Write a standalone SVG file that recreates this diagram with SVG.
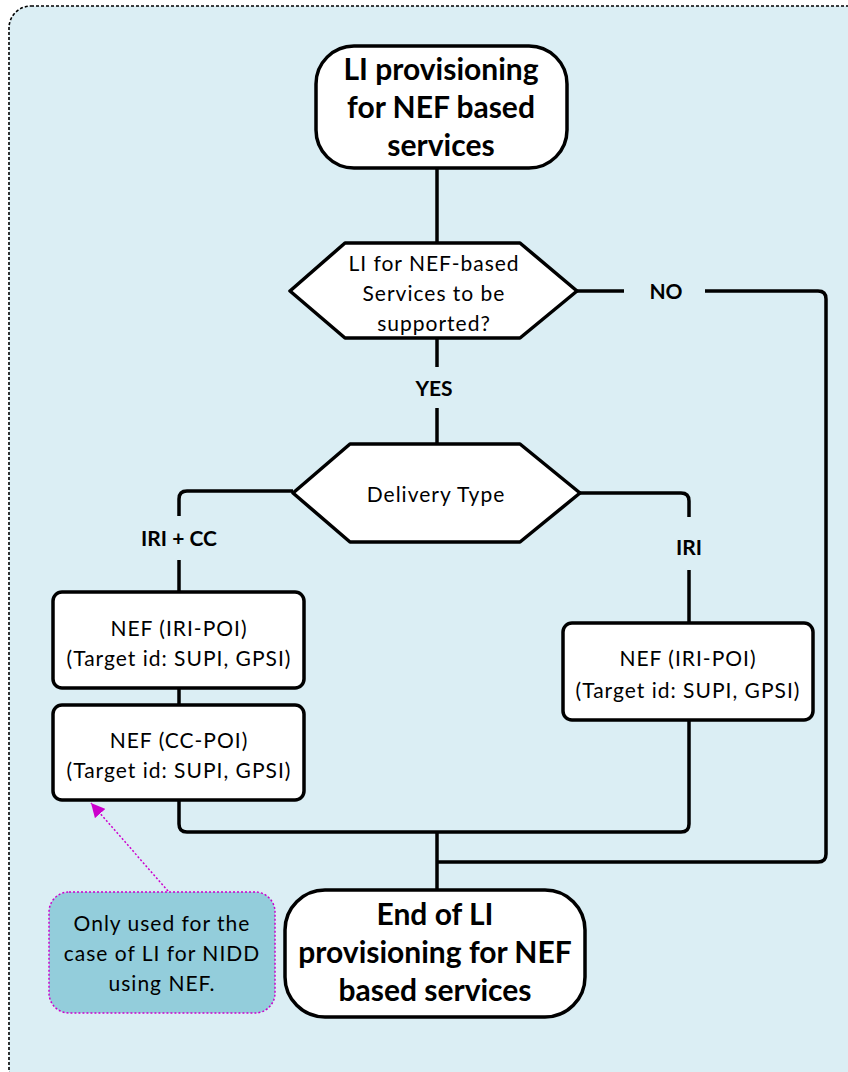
<svg xmlns="http://www.w3.org/2000/svg" width="848" height="1072" viewBox="0 0 848 1072">
<style>
.shape{fill:#ffffff;stroke:#000000;stroke-width:3.5;stroke-linejoin:round}
.conn{fill:none;stroke:#000000;stroke-width:3.5;stroke-linejoin:round}
.t{font-family:Lato,"Liberation Sans",sans-serif;font-size:21px;letter-spacing:1px;fill:#000;text-anchor:middle}
.tb{font-family:Lato,"Liberation Sans",sans-serif;font-size:30px;font-weight:bold;fill:#000;text-anchor:middle}
.lb{font-family:Lato,"Liberation Sans",sans-serif;font-size:21px;font-weight:bold;fill:#000;text-anchor:middle}
</style>
<defs>
<marker id="arr" markerWidth="14" markerHeight="14" refX="10" refY="5" orient="auto" markerUnits="userSpaceOnUse" viewBox="0 0 10 10">
<path d="M0,0 L10,5 L0,10 Z" fill="#cc00cc"/>
</marker>
</defs>
<rect x="9" y="6" width="860" height="1085" rx="22" fill="#dbeef4" stroke="#000" stroke-width="1.6" stroke-dasharray="3,2"/>
<g id="connectors">
<line class="conn" x1="437" y1="168" x2="437" y2="243"/>
<line class="conn" x1="577" y1="291" x2="624" y2="291"/>
<path class="conn" d="M705,291 H818 Q826,291 826,299 V854 Q826,862 818,862 H437"/>
<line class="conn" x1="437" y1="338" x2="437" y2="367"/>
<line class="conn" x1="437" y1="408" x2="437" y2="444"/>
<path class="conn" d="M293,491 H187 Q179,491 179,499 V516"/>
<line class="conn" x1="179" y1="560" x2="179" y2="592"/>
<path class="conn" d="M580,493 H681 Q689,493 689,501 V517"/>
<line class="conn" x1="689" y1="570" x2="689" y2="623"/>
<line class="conn" x1="179" y1="688" x2="179" y2="705"/>
<path class="conn" d="M179,800 V824 Q179,832 187,832 H681 Q689,832 689,824 V720"/>
<line class="conn" x1="437" y1="832" x2="437" y2="890"/>
<text class="lb" x="666" y="299">NO</text>
<text class="lb" x="434" y="396">YES</text>
<text class="lb" x="179" y="546">IRI + CC</text>
<text class="lb" x="689" y="555">IRI</text>
<line x1="168" y1="891" x2="91" y2="803" stroke="#cc00cc" stroke-width="1.5" stroke-dasharray="2,2" marker-end="url(#arr)"/>
</g>
<g id="start">
<rect class="shape" x="316" y="46" width="251" height="122" rx="38"/>
<text class="tb" x="441" y="80">LI provisioning</text>
<text class="tb" x="441" y="118">for NEF based</text>
<text class="tb" x="441" y="156">services</text>
</g>
<g id="decision-nef">
<path class="shape" d="M290,291 L345,243 H520 L577,291 L520,338 H345 Z"/>
<text class="t" x="434" y="271">LI for NEF-based</text>
<text class="t" x="434" y="301">Services to be</text>
<text class="t" x="434" y="331">supported?</text>
</g>
<g id="decision-delivery">
<path class="shape" d="M293,493 L350,444 H520 L580,493 L520,542 H350 Z"/>
<text class="t" x="436" y="502">Delivery Type</text>
</g>
<g id="nef-iri-left">
<rect class="shape" x="53" y="592" width="251" height="96" rx="9"/>
<text class="t" x="179" y="636">NEF (IRI-POI)</text>
<text class="t" x="179" y="666">(Target id: SUPI, GPSI)</text>
</g>
<g id="nef-cc">
<rect class="shape" x="53" y="705" width="251" height="95" rx="9"/>
<text class="t" x="179" y="748">NEF (CC-POI)</text>
<text class="t" x="179" y="778">(Target id: SUPI, GPSI)</text>
</g>
<g id="nef-iri-right">
<rect class="shape" x="563" y="623" width="250" height="97" rx="9"/>
<text class="t" x="688" y="666">NEF (IRI-POI)</text>
<text class="t" x="688" y="698">(Target id: SUPI, GPSI)</text>
</g>
<g id="end">
<rect class="shape" x="285" y="890" width="300" height="127" rx="40"/>
<text class="tb" x="435" y="925">End of LI</text>
<text class="tb" x="435" y="963">provisioning for NEF</text>
<text class="tb" x="435" y="1001">based services</text>
</g>
<g id="note">
<rect x="49" y="892" width="226" height="121" rx="20" fill="#93cddb" stroke="#cc00cc" stroke-width="1.5" stroke-dasharray="2,2"/>
<text class="t" x="162" y="931">Only used for the</text>
<text class="t" x="162" y="961">case of LI for NIDD</text>
<text class="t" x="162" y="991">using NEF.</text>
</g>
</svg>
